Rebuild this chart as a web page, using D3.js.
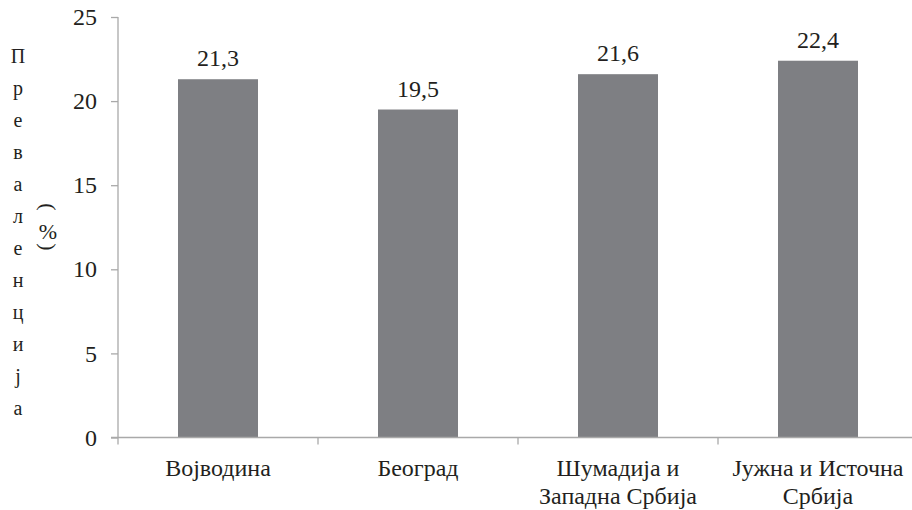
<!DOCTYPE html>
<html>
<head>
<meta charset="utf-8">
<script src="https://cdn.jsdelivr.net/npm/d3@7"></script>
</head>
<body style="margin:0;background:#ffffff">
<div id="root"></div>
<script>
// Prevalence by region (%)
const regions = [
  ["Војводина"],
  ["Београд"],
  ["Шумадија и", "Западна Србија"],
  ["Јужна и Источна", "Србија"]
];
const prevalence = [21.3, 19.5, 21.6, 22.4];
const yTicks = [0, 5, 10, 15, 20, 25];
const yTitle = "Преваленција";
const yUnit = ["(", "%", ")"];

const fontFamily = "Liberation Serif";
const axisColor = "#a9a9a9";
const barColor = "#7e7f83";
const textColor = "#231f20";

const svg = d3.select("#root").append("svg")
  .attr("width", 912).attr("height", 510)
  .attr("font-family", fontFamily)
  .style("display", "block");

const keys = regions.map(r => r.join(" "));
const x = d3.scaleBand().domain(keys).range([118, 918]).padding(0);
const y = d3.scaleLinear().domain([0, 25]).range([437.5, 17]);
const barW = x.bandwidth() * 0.4;

// bars
svg.append("g").selectAll("rect")
  .data(prevalence)
  .join("rect")
  .attr("x", (d, i) => x(keys[i]) + (x.bandwidth() - barW) / 2)
  .attr("y", d => y(d))
  .attr("width", barW)
  .attr("height", d => y(0) - y(d))
  .attr("fill", barColor);

// value labels
svg.append("g").selectAll("text")
  .data(prevalence)
  .join("text")
  .attr("x", (d, i) => x(keys[i]) + x.bandwidth() / 2)
  .attr("y", d => y(d) - 13)
  .attr("text-anchor", "middle")
  .attr("font-family", fontFamily)
  .attr("font-size", 24)
  .attr("fill", textColor)
  .text(d => d.toFixed(1).replace(".", ","));

// y axis
const yAxis = svg.append("g")
  .attr("transform", "translate(118,0)")
  .call(d3.axisLeft(y).tickValues(yTicks).tickSize(7).tickPadding(14).tickFormat(d3.format("d")))
  .attr("font-family", fontFamily)
  .attr("font-size", 24);
yAxis.select(".domain").attr("stroke", axisColor).attr("stroke-width", 1.3).attr("d", `M0,${y(25)}V${y(0)}`);
yAxis.selectAll(".tick line").attr("stroke", axisColor).attr("stroke-width", 1.3);
yAxis.selectAll(".tick text").attr("fill", textColor);

// x axis: baseline with ticks at category boundaries
const xAxis = svg.append("g");
xAxis.append("line")
  .attr("x1", 111).attr("x2", x.range()[1])
  .attr("y1", y(0)).attr("y2", y(0))
  .attr("stroke", axisColor).attr("stroke-width", 1.3);
const bounds = keys.map(k => x(k)).concat([x.range()[1]]);
xAxis.selectAll(".xtick")
  .data(bounds)
  .join("line")
  .attr("x1", d => d).attr("x2", d => d)
  .attr("y1", y(0)).attr("y2", y(0) + 7)
  .attr("stroke", axisColor).attr("stroke-width", 1.3);

// category labels, one text per line
const catLines = regions.flatMap((r, i) => r.map((t, j) => ({ t, i, j })));
xAxis.selectAll(".cat")
  .data(catLines)
  .join("text")
  .attr("x", d => x(keys[d.i]) + x.bandwidth() / 2)
  .attr("y", d => 476 + d.j * 28)
  .attr("text-anchor", "middle")
  .attr("font-family", fontFamily)
  .attr("font-size", 24)
  .attr("fill", textColor)
  .text(d => d.t);

// y title: stacked letters
svg.append("g").selectAll("text")
  .data(Array.from(yTitle))
  .join("text")
  .attr("x", 18)
  .attr("y", (d, i) => 63 + i * 32)
  .attr("text-anchor", "middle")
  .attr("font-family", fontFamily)
  .attr("font-size", 20)
  .attr("fill", textColor)
  .text(d => d);

// unit: rotated brackets around an upright percent sign
const unitParts = [
  { t: yUnit[0], tf: "translate(48,207) rotate(90)", rot: true },
  { t: yUnit[1], tf: "translate(48,239)", rot: false },
  { t: yUnit[2], tf: "translate(48,247) rotate(90)", rot: true }
];
svg.append("g").selectAll("text")
  .data(unitParts)
  .join("text")
  .attr("transform", d => d.tf)
  .attr("text-anchor", "middle")
  .attr("dominant-baseline", d => d.rot ? "central" : null)
  .attr("font-family", fontFamily)
  .attr("font-size", 22)
  .attr("fill", textColor)
  .text(d => d.t);
</script>
</body>
</html>
